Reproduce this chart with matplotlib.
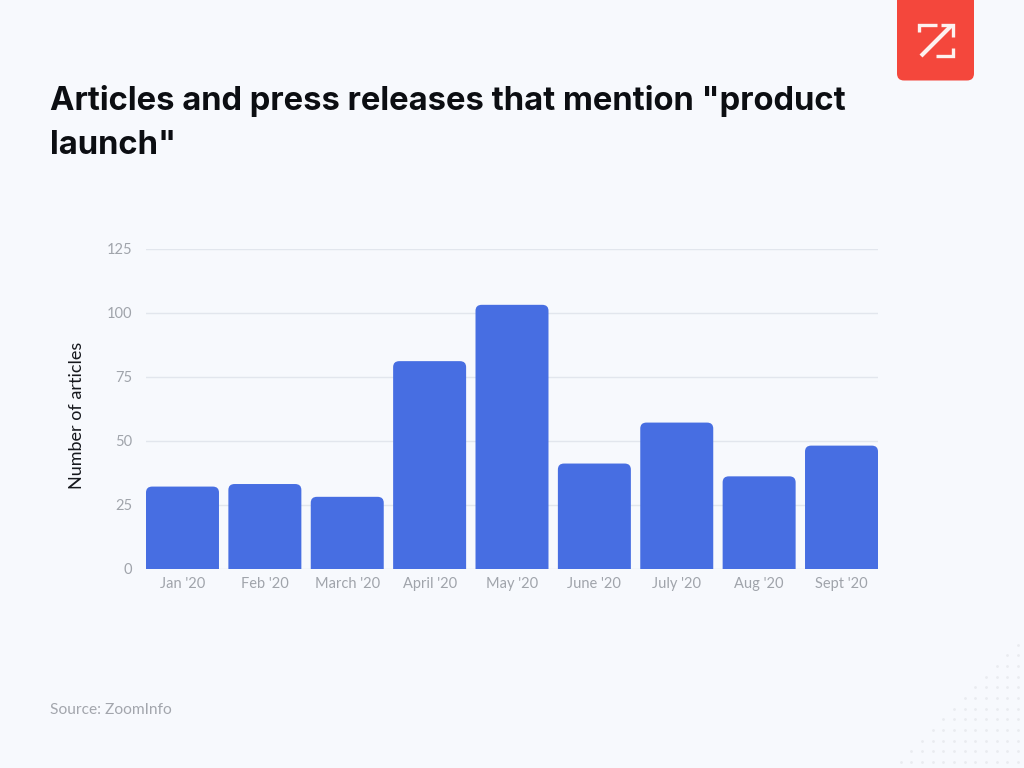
import matplotlib
matplotlib.use('Agg')
import matplotlib.pyplot as plt
from matplotlib.patches import FancyBboxPatch

# data
months = ["Jan '20", "Feb '20", "March '20", "April '20", "May '20", "June '20", "July '20", "Aug '20", "Sept '20"]
articles = [32, 33, 28, 81, 103, 41, 57, 36, 48]
y_ticks = [0, 25, 50, 75, 100, 125]

BG = '#f7f9fd'
BLUE = '#476ee2'
RED = '#f4473c'
W, H = 1024, 768

plt.rcParams['font.family'] = ['Lato', 'DejaVu Sans']

fig = plt.figure(figsize=(W / 100, H / 100), dpi=100, facecolor=BG)

# chart area, in pixels from the top left
left, right, top, bottom = 146, 878, 248.5, 568.5
ax = fig.add_axes([left / W, 1 - bottom / H, (right - left) / W, (bottom - top) / H])
ax.set_facecolor('none')

bar_w = 0.886
ax.set_xlim(-bar_w / 2, len(months) - 1 + bar_w / 2)
ax.set_ylim(0, 125)

bars = ax.bar(range(len(months)), articles, width=bar_w, color='none', zorder=1)
# swap plain bars for ones with rounded tops, the bottom corners get clipped by the axes
for b in bars:
    box = FancyBboxPatch((b.get_x(), -6), b.get_width(), b.get_height() + 6,
                         boxstyle='round,pad=0,rounding_size=0.075', mutation_aspect=31,
                         facecolor=BLUE, edgecolor='none', zorder=3)
    ax.add_patch(box)

ax.set_yticks(y_ticks)
ax.set_xticks(range(len(months)))
ax.set_xticklabels(months)
ax.tick_params(axis='both', length=0, labelsize=10.5, labelcolor='#a0a4ab')
ax.tick_params(axis='x', pad=6)
ax.tick_params(axis='y', pad=10)
ax.grid(axis='y', color='#e2e6ed', linewidth=1, zorder=0)
ax.set_axisbelow(True)
for s in ax.spines.values():
    s.set_visible(False)

fig.text(77 / W, 1 - 415 / H, 'Number of articles', rotation=90, ha='center', va='center',
         fontsize=13, color='#16181d')

# title and source
title_font = dict(fontsize=23.6, fontweight='bold', color='#0c0e12', family=['Inter', 'DejaVu Sans'])
fig.text(50 / W, 1 - 101 / H, 'Articles and press releases that mention "product', ha='left', va='center', **title_font)
fig.text(50 / W, 1 - 145 / H, 'launch"', ha='left', va='center', **title_font)
fig.text(50 / W, 1 - 710 / H, 'Source: ZoomInfo', ha='left', va='center', fontsize=11.2, color='#a3a6ad')

# logo and dot pattern, drawn in pixel coordinates
deco = fig.add_axes([0, 0, 1, 1], zorder=-1)
deco.set_xlim(0, W)
deco.set_ylim(H, 0)
deco.axis('off')

deco.add_patch(FancyBboxPatch((897, -20), 77, 100.5, boxstyle='round,pad=0,rounding_size=7',
                              facecolor=RED, edgecolor='none'))
logo = dict(color='#fdf1ef', linewidth=2.4, solid_capstyle='butt', solid_joinstyle='miter')
deco.plot([919, 919, 937], [32, 25, 25], **logo)
deco.plot([936, 953, 953], [56, 56, 48], **logo)
deco.plot([921, 951], [56, 26], color='#fdf1ef', linewidth=3, solid_capstyle='butt')
deco.plot([941, 953, 953], [25, 25, 37], **logo)

dot_x, dot_y = [], []
for row in range(12):
    for col in range(row + 1):
        dot_x.append(1018 - col * 10.67)
        dot_y.append(644.5 + row * 10.67)
deco.scatter(dot_x, dot_y, s=4, color='#e9ebf0', linewidths=0)

fig.savefig('out.png', dpi=100, facecolor=BG)
